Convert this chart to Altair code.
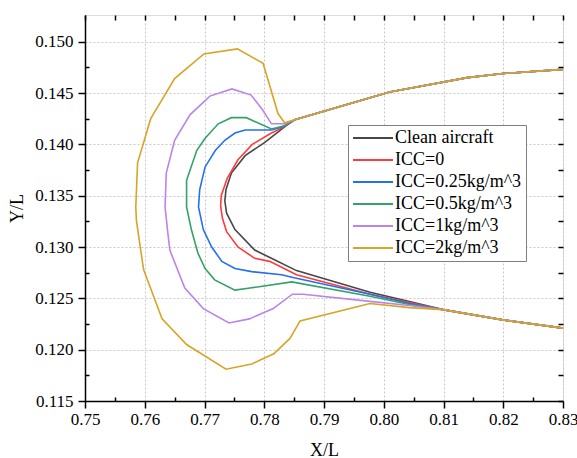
import altair as alt
import pandas as pd

series_names = ["Clean aircraft", "ICC=0", "ICC=0.25kg/m^3", "ICC=0.5kg/m^3", "ICC=1kg/m^3", "ICC=2kg/m^3"]
series_colors = ["#474747", "#ff3b3b", "#256ff0", "#34a266", "#b984ee", "#d8a428"]

upper_tail_x = [0.830, 0.820, 0.814, 0.801, 0.7851]
upper_tail_y = [0.1473, 0.1469, 0.1465, 0.1451, 0.1424]
lower_tail_x = [0.8099, 0.8199, 0.830]
lower_tail_y = [0.1239, 0.1229, 0.1221]

clean_x = upper_tail_x + [0.7834, 0.7801, 0.7768, 0.7745, 0.7736, 0.7734, 0.7737, 0.7751, 0.7784, 0.7812, 0.7854, 0.7977, 0.8043] + lower_tail_x
clean_y = upper_tail_y + [0.1417, 0.1402, 0.1389, 0.1372, 0.1356, 0.1345, 0.1333, 0.1317, 0.1297, 0.1289, 0.1277, 0.1256, 0.1247] + lower_tail_y

icc0_x = upper_tail_x + [0.7830, 0.7812, 0.7780, 0.7756, 0.7738, 0.7728, 0.7727, 0.7730, 0.7737, 0.7756, 0.7784, 0.7809, 0.7854, 0.7977, 0.8043] + lower_tail_x
icc0_y = upper_tail_y + [0.1416, 0.1411, 0.1400, 0.1385, 0.1367, 0.1350, 0.1340, 0.1328, 0.1315, 0.1300, 0.1289, 0.1286, 0.1273, 0.1254, 0.1246] + lower_tail_y

icc025_x = upper_tail_x + [0.7830, 0.7812, 0.7768, 0.7751, 0.7734, 0.7718, 0.7701, 0.7692, 0.7690, 0.7698, 0.7712, 0.7729, 0.7751, 0.7779, 0.7829, 0.7850, 0.7977, 0.8043] + lower_tail_x
icc025_y = upper_tail_y + [0.1417, 0.1414, 0.1414, 0.1411, 0.1404, 0.1394, 0.1378, 0.1356, 0.1339, 0.1317, 0.1300, 0.1286, 0.1279, 0.1276, 0.1273, 0.1270, 0.1254, 0.1245] + lower_tail_y

icc05_x = upper_tail_x + [0.7834, 0.7812, 0.7770, 0.7745, 0.7723, 0.7701, 0.7687, 0.7670, 0.7670, 0.7678, 0.7689, 0.7701, 0.7717, 0.7751, 0.7776, 0.7846, 0.7977, 0.8043] + lower_tail_x
icc05_y = upper_tail_y + [0.1418, 0.1415, 0.1426, 0.1426, 0.1420, 0.1406, 0.1394, 0.1365, 0.1339, 0.1317, 0.1294, 0.1279, 0.1268, 0.1258, 0.1260, 0.1266, 0.1252, 0.1244] + lower_tail_y

icc1_x = upper_tail_x + [0.7834, 0.7812, 0.7798, 0.7778, 0.7746, 0.7709, 0.7676, 0.7650, 0.7636, 0.7634, 0.7638, 0.7642, 0.7667, 0.7698, 0.7741, 0.7775, 0.7815, 0.7847, 0.7865, 0.7977, 0.8043] + lower_tail_x
icc1_y = upper_tail_y + [0.1420, 0.1420, 0.1433, 0.1448, 0.1454, 0.1447, 0.1429, 0.1404, 0.1372, 0.1339, 0.1317, 0.1297, 0.1260, 0.1240, 0.1226, 0.1230, 0.1240, 0.1254, 0.1254, 0.1247, 0.1243] + lower_tail_y

icc2_x = upper_tail_x + [0.7834, 0.7823, 0.7798, 0.7755, 0.7699, 0.7650, 0.7610, 0.7588, 0.7585, 0.7586, 0.7598, 0.7629, 0.7670, 0.7736, 0.7779, 0.7816, 0.7843, 0.7860, 0.7977, 0.8043] + lower_tail_x
icc2_y = upper_tail_y + [0.1421, 0.1430, 0.1479, 0.1493, 0.1488, 0.1464, 0.1425, 0.1382, 0.1339, 0.1326, 0.1278, 0.1230, 0.1205, 0.1181, 0.1186, 0.1196, 0.1211, 0.1228, 0.1245, 0.1241] + lower_tail_y

x_major = [0.75, 0.76, 0.77, 0.78, 0.79, 0.80, 0.81, 0.82, 0.83]
x_minor = [0.755, 0.765, 0.775, 0.785, 0.795, 0.805, 0.815, 0.825]
y_major = [0.115, 0.120, 0.125, 0.130, 0.135, 0.140, 0.145, 0.150]
y_minor = [0.1175, 0.1225, 0.1275, 0.1325, 0.1375, 0.1425, 0.1475]

all_x = [clean_x, icc0_x, icc025_x, icc05_x, icc1_x, icc2_x]
all_y = [clean_y, icc0_y, icc025_y, icc05_y, icc1_y, icc2_y]

rows = []
for name, xs, ys in zip(series_names, all_x, all_y):
    for i, (xv, yv) in enumerate(zip(xs, ys)):
        rows.append({"series": name, "x": xv, "y": yv, "i": i})
df = pd.DataFrame(rows)

FONT = "Liberation Serif"
xscale = alt.Scale(domain=[0.75, 0.83], nice=False, zero=False)
yscale = alt.Scale(domain=[0.115, 0.1526], nice=False, zero=False)

base = alt.Chart(df)

main = base.mark_line(strokeWidth=1.6).encode(
    x=alt.X("x:Q", scale=xscale, title="X/L", axis=alt.Axis(
        orient="bottom", values=x_major, format=".2f", labelFlush=False, labelOverlap=False,
        tickSize=7, tickColor="black", tickWidth=1.5,
        domainColor="black", domainWidth=1.5,
        labelFont=FONT, labelFontSize=17, labelColor="black", labelPadding=3,
        titleFont=FONT, titleFontSize=18, titleFontWeight="normal", titleColor="black", titlePadding=14,
        grid=True, gridColor="#c8c8c8", gridDash=[2, 2], gridWidth=1)),
    y=alt.Y("y:Q", scale=yscale, title="Y/L", axis=alt.Axis(
        orient="left", values=y_major, format=".3f", labelOverlap=False,
        tickSize=7, tickColor="black", tickWidth=1.5,
        domainColor="black", domainWidth=1.5,
        labelFont=FONT, labelFontSize=17, labelColor="black", labelPadding=5,
        titleFont=FONT, titleFontSize=18, titleFontWeight="normal", titleColor="black", titlePadding=8,
        grid=True, gridColor="#c8c8c8", gridDash=[2, 2], gridWidth=1)),
    color=alt.Color("series:N", scale=alt.Scale(domain=series_names, range=series_colors),
                    legend=alt.Legend(
                        title=None, orient="none", legendX=263, legendY=110,
                        symbolType="stroke", symbolSize=1600, symbolStrokeWidth=1.8,
                        clipHeight=18, labelOffset=1,
                        labelFont=FONT, labelFontSize=18, labelColor="black",
                        rowPadding=4, padding=4, strokeColor="#7f7f7f", fillColor="white",
                        labelLimit=300)),
    order="i:Q",
)

minor = base.mark_line(opacity=0).encode(
    x=alt.X("x:Q", scale=xscale, title=None, axis=alt.Axis(
        orient="bottom", values=x_minor, labels=False, domain=False, grid=False,
        tickSize=4, offset=-4, tickColor="black", tickWidth=1.5)),
    y=alt.Y("y:Q", scale=yscale, title=None, axis=alt.Axis(
        orient="left", values=y_minor, labels=False, domain=False, grid=False,
        tickSize=4, offset=-4, tickColor="black", tickWidth=1.5)),
    detail="series:N",
    order="i:Q",
)

mirror = base.mark_line(opacity=0).encode(
    x=alt.X("x:Q", scale=xscale, title=None, axis=alt.Axis(
        orient="top", values=x_major + x_minor, labels=False, domain=False, grid=False,
        tickSize=5, offset=-5, tickColor="black", tickWidth=1.5)),
    y=alt.Y("y:Q", scale=yscale, title=None, axis=alt.Axis(
        orient="right", values=y_major + y_minor, labels=False, domain=False, grid=False,
        tickSize=5, offset=-5, tickColor="black", tickWidth=1.5)),
    detail="series:N",
    order="i:Q",
)

chart = alt.layer(main, minor, mirror).resolve_axis(
    x="independent", y="independent"
).properties(
    width=478, height=386,
    autosize=alt.AutoSizeParams(type="none"),
    padding={"left": 85, "top": 15, "right": 14, "bottom": 57},
).configure_view(stroke="black", strokeWidth=1.5).configure_axis(
    labelFont=FONT, titleFont=FONT
).configure_legend(labelFont=FONT).configure(background="white")

chart.save("out.html", embed_options={"renderer": "svg", "actions": False})
